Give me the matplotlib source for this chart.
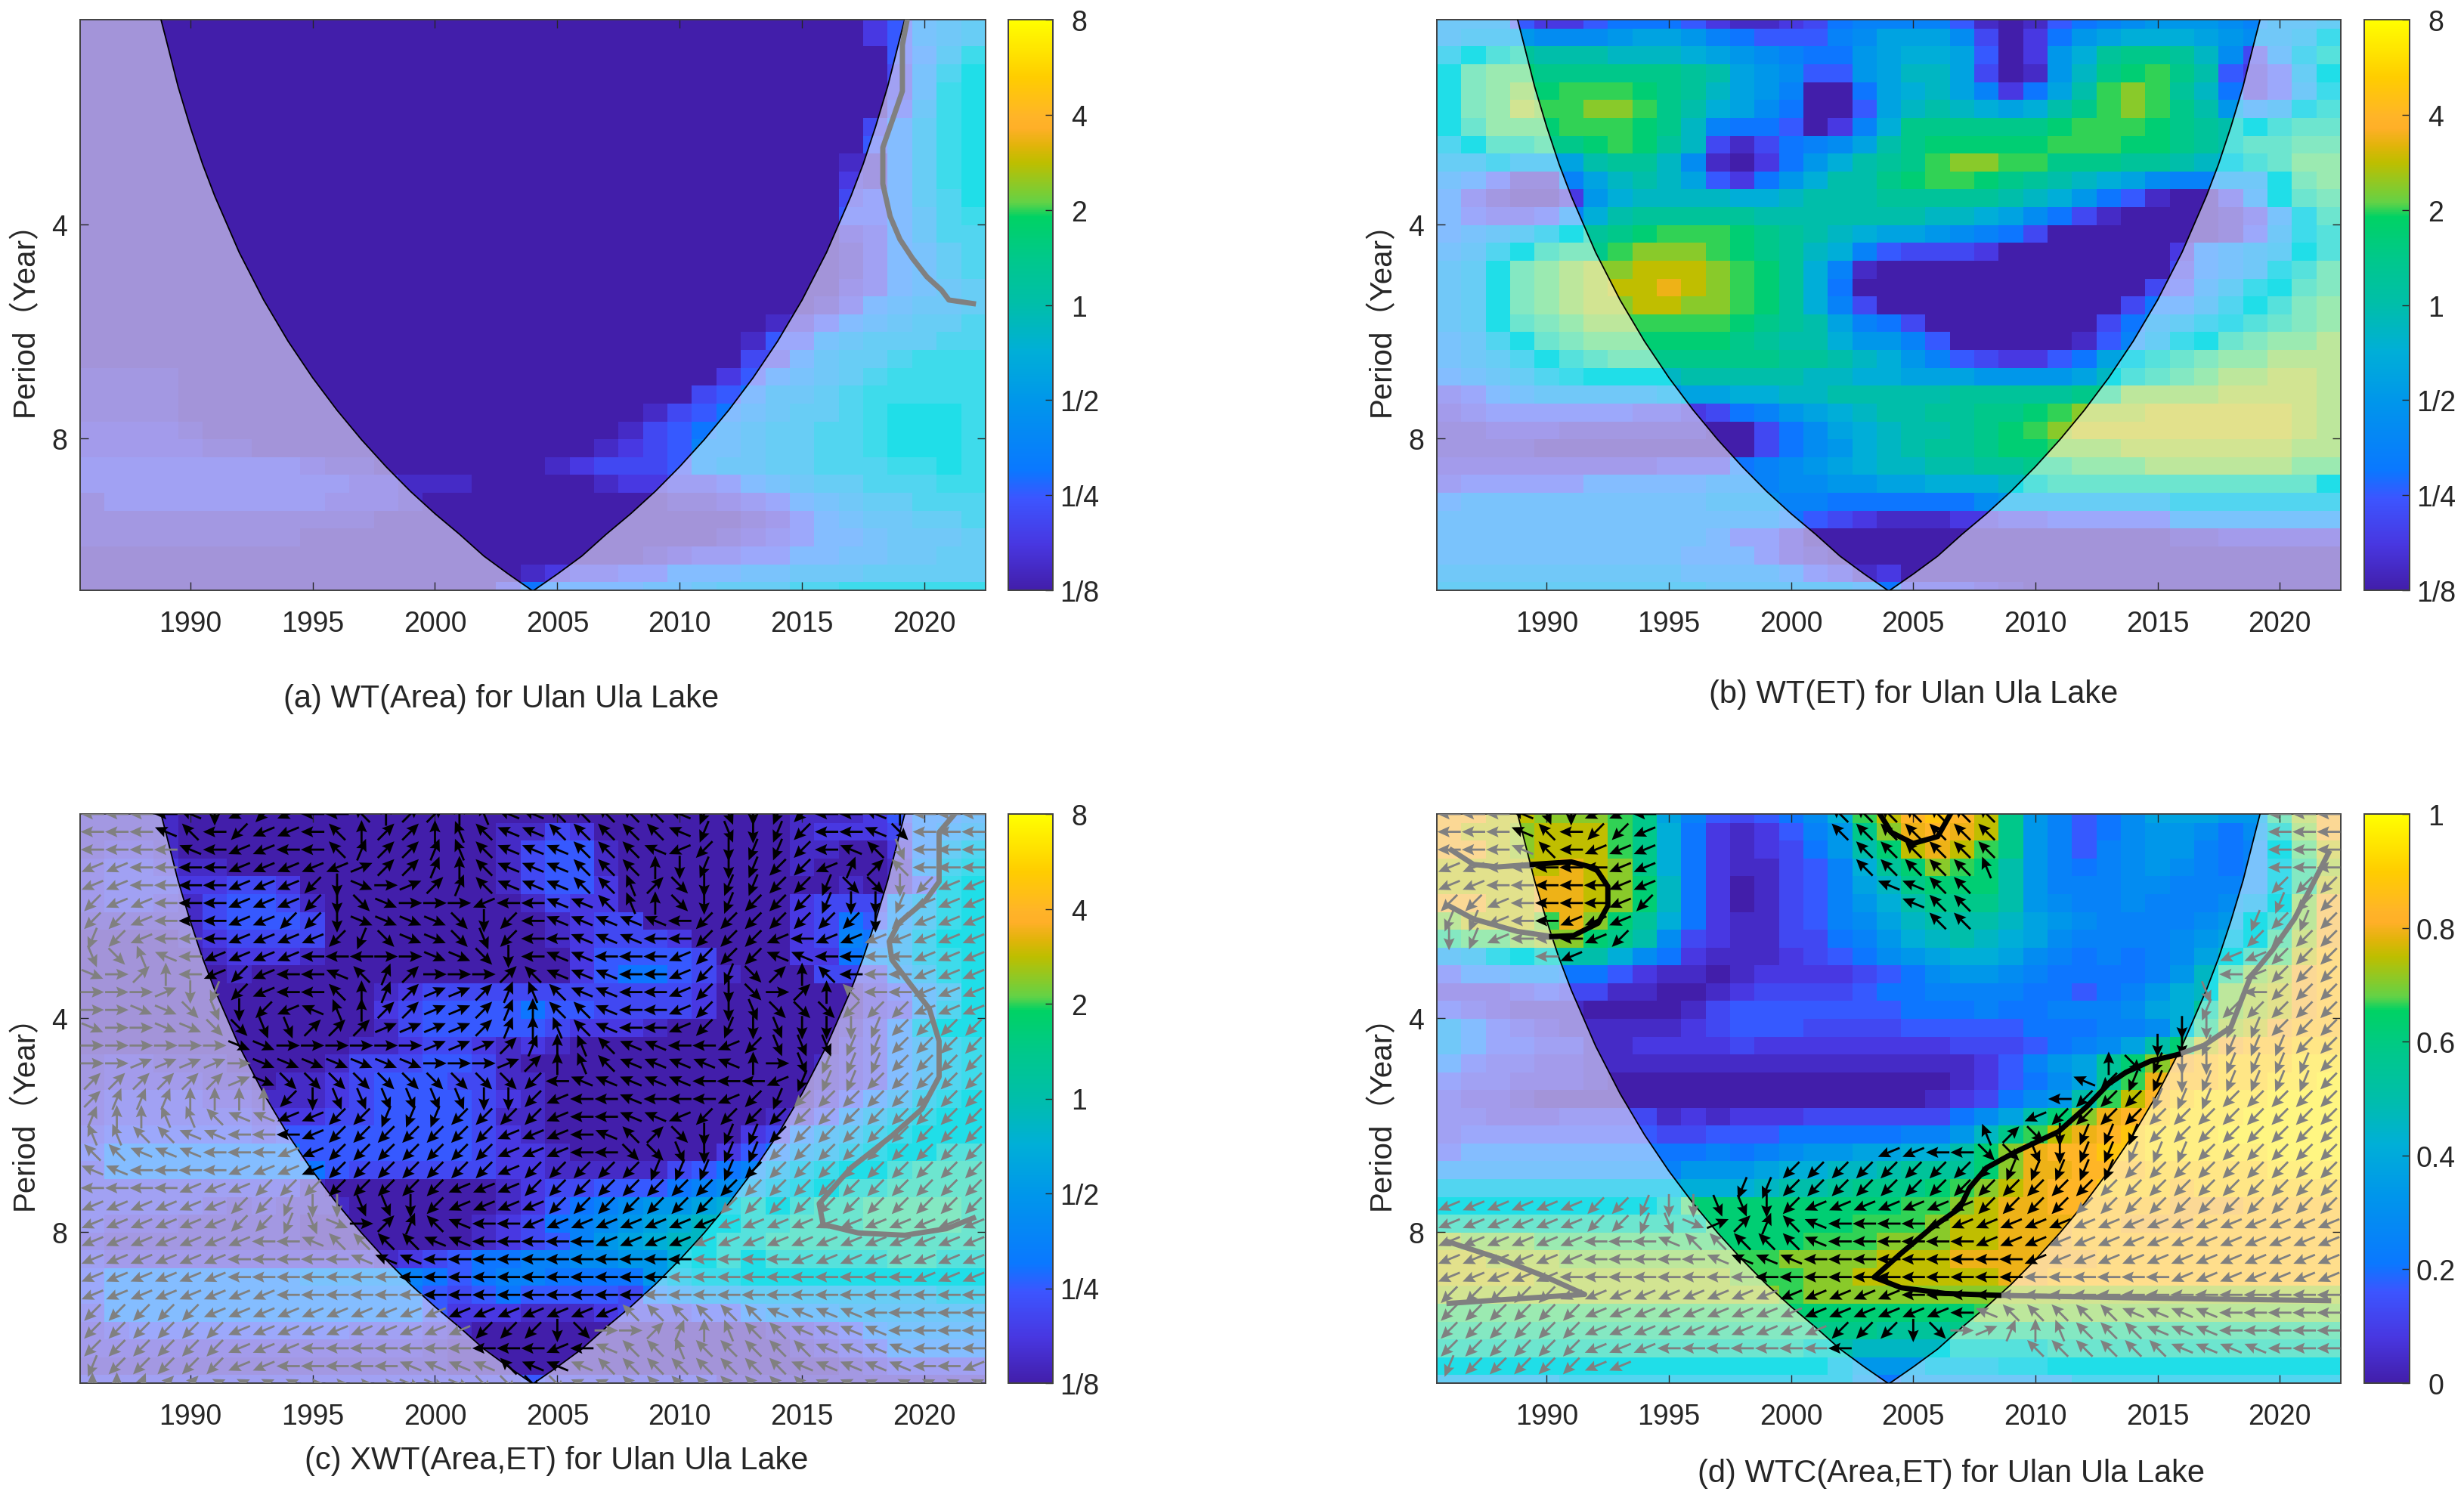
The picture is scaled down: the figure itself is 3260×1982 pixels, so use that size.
import numpy as np
import matplotlib
matplotlib.use("Agg")
from matplotlib import pyplot as plt
from matplotlib.colors import LinearSegmentedColormap, Normalize
from matplotlib.cm import ScalarMappable
from matplotlib.patches import Polygon

W, H = 3260, 1983

# cell values, one char per year (1986..2022), one row per 1/12 octave
# 0-9a-o = 25 steps along the colour bar
area_rows = [
"0"*32+"24678","0"*32+"24678","0"*33+"458a","0"*33+"369b","0"*33+"36ab","0"*33+"47ab",
"0"*32+"358ab","0"*32+"458ab","0"*31+"1158ab","0"*31+"2158ab","0"*31+"34589b","0"*31+"44579a",
"0"*31+"235799","0"*31+"135689","0"*31+"135689","0"*31+"235678","0"*30+"1356778",
"0"*28+"124567889","0"*27+"1446788899","0"*27+"3357889aaa","1111"+"0"*22+"2456789aaaa",
"1111"+"0"*21+"3457789aaaaa","1111"+"0"*19+"134567889abbba","22221"+"0"*17+"1345678899abbba",
"2222211"+"0"*14+"12346678899abbba",
"3"*9+"211"+"0"*7+"12333467788999aaba",
"3"*11+"22111"+"0"*5+"12233456788999aa",
"1"+"3"*9+"2221"+"0"*10+"1123456788999","1"*9+"111"+"0"*15+"1245677889","1"*9+"0"*17+"12345567778",
"0"*23+"12334455667788","0"*18+"1233445556677788888","0"*17+"35555566788899aaaaaa",
]
et_rows = [
"7774224555421123566664101456788876778","7888777899865444679997302589aaa98778a",
"9bcdcccbbba98765589aa94028adeedb7369c","beff"+"eeeeee"+"dc987"+"44"+"89bb9"+"301"+"8befge"+"c4248b",
"befg"+"fgggfedb986"+"0059ab96259c"+"ghgdb5247a","befh"+"gghhgeca975"+"0049bcba9ace"+"ghgec867ac",
"bdff"+"fgggfeb6554"+"026aeeeeeefg"+"ggfedcbcdd","9bdd"+"eefgfdb"+"3135679c"+"efffffgggffedc"+"ddee",
"8898"+"89cddb7"+"10258acd"+"eghhggeeeddcba"+"cdff","65411"+"69bcb94258acc"+"efggfedcba97667"+"7bef",
"53100"+"28abbbbaabccc"+"dddddcba854100"+"36bde","54334"+"6acddddd"+"c"*7+"bba97531"+"0000"+"136ad",
"56789b"+"defgggf"+"edcba9987653"+"0"*7+"147ac","679bde"+"eghhhgfe"+"dba643332"+"0"*7+"25678bc",
"78befgh"+"hiiihgfda61"+"0"*12+"3567ace","78befgh"+"iijihgfda50"+"0"*11+"3468abde",
"78befgh"+"hiihhgfda63"+"0"*10+"35579bcef","78bdefg"+"ggggggfedc9653"[1:]+"0"*7+"35789acdef",
"679bdef"+"fffff"+"edcca8864"+"0"*5+"1468abdeffg","6789bcd"+"e"*7+"ddcba86432245"+"9acdeffggg",
"56789ab"+"bbb"+"ccccc"+"bbaa999"+"8888"+"9b"+"cdefgghhg","3456777778"+"99aabb"+"ccccc"+"ddddd"+"eegggghhhhg",
"2344444433"+"235689abccddeefg"+"hhhiiiiiihg","1122211111"+"1"+"00"+"3579abccdefgh"+"iiiiiiiiihg",
"1111"+"0"*9+"3578abcddeffg"+"gghhhhhhhgg","2"*9+"333"+"56789abbccdde"+"efffggggggff",
"344444"+"55555"+"666"+"778899aaa"+"bc"+"d"*11+"b","5"+"6"*10+"777"+"66"+"555555"+"7"+"8"*7+"9"*7,
"6"*14+"54321112233"+"44444"+"6"*7,"6"*11+"544"+"2"+"0"*15+"1122222","6"*10+"555"+"421"+"0"*21,
"7"*10+"6666"+"5431"+"2"+"0"*18,"8"*11+"777777"+"65"+"333"+"21"+"0"*13,
]
xwt_rows = [
"1111"+"0"*25+"11124556","1111"+"0"*13+"11"+"32"+"0"*8+"1222"+"3"+"567","1221"+"0"*13+"13441"+"0"*7+"1100"+"2"+"589",
"233211"+"0"*11+"13441"+"0"*7+"1000"+"1"+"69a","233322332"+"0"*8+"13442"+"0"*7+"0010"+"1"+"4ab",
"2332134431"+"0"*8+"1322"+"0"*7+"2333"+"6"+"8ab","1111134443"+"0"*9+"1233"+"0"*6+"2354"+"6"+"8ab",
"0000123333"+"0"*9+"123332"+"0"*4+"2365"+"7"+"9bb","0"*5+"12221"+"0"*10+"244443"+"000"+"2256"+"7"+"9ab",
"0"*6+"1"+"0"*13+"2455431"+"000"+"33"+"3"+"6"+"8ab","0"*12+"12"+"3"*11+"2"+"0"*6+"2468b",
"0"*12+"23444454433332"+"0"*6+"2369b","0"*12+"1344444322 21".replace(" ","")+"0"*7+"1359b",
"0"*11+"112332121"+"0"*11+"2"+"3579a","122111"+"0"*4+"13334431"+"0"*12+"12"+"3579a",
"1222211"+"0"+"11234443311"+"0"*11+"12"+"3579a","23333221"+"11234444321"+"0"*11+"2"+"4579ab",
"23333332"+"22334444311"+"0"*9+"12"+"4689abb","34444443"+"44444444321"+"0"*8+"235"+"789abbb",
"4"+"5"*8+"4"*7+"3"+"22"+"1"+"0"*6+"245"+"789abbcc","3"+"5"*8+"54"+"3"*6+"22"+"11111"+"3456"+"89abbcddd",
"3"*9+"1"+"0"*7+"12334445678"+"9abccdddd","33333"+"21"+"2"+"111"+"0"*6+"124567889ac"+"bcddeeeed",
"3222"+"11111"+"0"*7+"12356789abbc"+"cdddeeeed","2"+"1"*8+"0"*7+"1234689abb"+"ccddddddddd",
"3"+"2"*11+"1"+"23455667788"+"abcbcccccddcc","4"+"5"*8+"6"*5+"545665555"+"89a"+"a"+"b"*10,
"4"+"5"*13+"43454444"+"3"+"5677"+"8"*8+"99","3"+"5"*13+"42"+"221112"+"333"+"44"+"5"+"666"+"7"*6,
"23"+"4"*9+"333"+"21"+"0"*12+"1"+"23456666","2"*14+"1"+"0"*14+"12345555","1"*15+"0"*16+"123333",
"3"*18+"4"+"3"*7+"1"*11,
]
wtc_rows = [
"jjii"+"hhhge9643457ag"+"iklkie86457"+"99988ehj","jiih"+"iiigea5212468e"+"hjkjie86457"+"88757cgj",
"jjih"+"iiigea5212358c"+"fijige86467"+"88656bfi","iiii"+"ijihea5211346a"+"dfhgfc86567"+"87656aeh",
"iiii"+"jjihfb52013469"+"befffc86667"+"76666aei","jjii"+"jjihfb52013468"+"aceeec87667"+"66678bgj",
"giii"+"gjhfda52113467"+"9bcccb98766"+"6678bcgj","effg"+"hhfec732113356"+"8abcba97666"+"6789behj",
"78ab"+"ccca7521112345"+"789aa976565"+"679bdfik","4556"+"65542110122223"+"45788765555"+"68beghjk",
"2223"+"43311001233334"+"55666655456"+"8abghijk","4321"+"11000013444444"+"45556556667"+"9adghijk",
"7543"+"21111123444333"+"34444455566"+"7aehijkk","7544"+"33112222322222"+"22233345679"+"cfijkkll",
"5433"+"22"+"1"*12+"111124689df"+"hjklllmm","4332"+"221"+"0"*11+"000124579dg"+"jkkllmmn",
"3221"+"0"*14+"00123578cgi"+"klmmmnnn","3322"+"23333121222333"+"333579cfhjk"+"lmmmnnnn",
"3444"+"44444334445555"+"5668begijkl"+"mmmnnnnn","4555"+"55555556567889"+"9aacfhjkkll"+"mmmmmnnn",
"6666"+"66666688"+"89aabb"+"cdddfhjjkkk"+"lllllmmm","9999"+"999999aaabccde"+"eefghijkkll"+"lkllllll",
"bbbb"+"bbbbbcffffffff"+"fgghijjkkkk"+"kjjjkkkk","dddd"+"dddddddffffffg"+"gghiijjjkkj"+"jjkkkkkk",
"hggg"+"fffffffffffggg"+"hhhiijjjkkk"+"k"*8,"iihh"+"hggggggggghhhh"+"iiijjjjjjkk"+"k"*8,
"iiii"+"hhhhhhhhggghhi"+"iiiiijjkkkk"+"k"*8,"hhhh"+"hhhhhhhhhhghhh"+"hhhhhhhhhhh"+"h"*8,
"ffff"+"f"*11+"fff"+"ffff"+"g"*15,"e"*15+"eee"+"ddd"+"e"*16,"d"*15+"ccbbbb"+"cccc"+"d"*12,
"b"*14+"bb"+"9888"+"999"+"aa"+"b"*12,"8"*5+"9"*12+"757"+"7"*6+"9"*11,
]

# phase arrows, hex digit = direction in 22.5 deg steps from east, "." = no arrow
xwt_phase = [
"88887c9a9886422457"+"7666667bdcba8874888","888768a99864224567"+"7666667bdcba887e888",
"888878998863223567"+"7766679acbba876d888","998888999991223467"+"776664cbcbaa9326888",
"998888999acf012367"+"776652ecbbaabeeca99","a99888999acef00098"+"877654ecbaaabccb999",
"aa988899aacffffeca"+"8777778aaaaaaaca999","ba98889999abeffeda"+"8877788aaa989999999",
"de5789999888"+"00ffec"+"8778889aaa778888999","f02489a98876320002"+"6777889abe246888999",
"0001cba98864321123"+"5677889ace024688999","00ffedca9754221123"+"4667889acdeeeaaa999",
"f00ffeedd222111123"+"4567889abcdcccbaaaa","000000ff0000001112"+"345677889adddbbaaaa",
"0011110fffffff0001"+"2456777774 0dbbbaaaa".replace(" ",""),"2222221feeeeeeeeee"+"a8777778889bbbaaaaa",
"23334444acddddddcc"+"a98878889abaaaaaaaa","3445567799aabbbaaa"+"a988779aaaaaaaaaaaa",
"5566778889aaaaaaa9"+"998762ecbb"+"a"*9,"6677788899aaaaaaa9"+"9988eedcbb"+"a"*9,
"7788889999aaaaaaa9"+"aaaaabbbb"+"a"*10,"888899"+"9aaaaaaaa999"+"a"*19,
"999999aabccddca999"+"9"+"a"*18,"999999aabdf0236788"+"9"*19,"999999988766667788"+"888"+"9"*16,
"9"*6+"88888"+"777"+"8888"+"8"+"8"*10+"9"*9,"9"*6+"8"*12+"8"*16+"9"*3,"9"*8+"8"*10+"8"*19,
"a"*5+"9"*13+"9999"+"666666"+"7777"+"88888","a"*6+"9"*10+"aa"+"ace002345667777 8888".replace(" ",""),
"a"*6+"999"+"8"*9+"8987665666667777888","baaaaa998888877776"+"7776666666677777889",
"4432211110000fffee"+"ee77666666667771111",
]
wtc_phase = [
"8887dc998"+"."*7+"6666666"+"."*11+"888","888768aa9"+"."*7+"6666666"+"."*11+"888",
"888768999"+"."*8+"666666"+"."*11+"888","998888899"+"."*8+"666665"+"."*11+"888",
"998888899"+"."*9+"7766"+"."*12+"aaa","aa988889a"+"."*10+"766"+"."*12+"baa",
"bb988999"+"."*12+"66"+"."*11+"baba","cb98889a"+"."*25+"aaaa",
"...."+"89"+"."*26+"99aaa","."*32+"89aaa","."*31+"d"+"."+"8aaa","."*31+"baaaaa",
"."*30+"ccbbaaa","."*29+"ccbbbbaa","."*27+"4ebccbbbba","."*26+"7abbcbbbbba",
"."*25+"8aaabbb"+"a"*5,"."*24+"9"+"a"*12,"."*22+"52ecbbb"+"a"*8,"."*18+"9988eedcbbb"+"bbaaaaaa",
"."*14+"a"*9+"bbbbb"+"a"*9,"."*12+"bb"+"a"*23,"9"*6+"aabcc"+"ddca"+"9999"+"999"+"a"*15,
"999999aabdf"+"123678888"+"9"*17,"9"*6+"888"+"76"+"6666"+"7888888"+"9"*15,
"9"*6+"88888"+"7777"+"8"*9+"9"*13,"9"*5+"8"*25+"9"*7,"a"*5+"9"*14+"8"*18,
"a"*6+"9"*15+"87"+"66666"+"7777"+"8"*5,"a"*6+"9"*10+"aaa"+"ce01"+"3456"+"66"+"777"+"88888",
"a"*6+"999"+"8"*8+"."*7+"666666"+"7777"+"888","baaaaa99"+"."*29,"."*37,
]

years = list(range(1986, 2023))

# cone of influence
cone_year = [1988.8,1989,1989.5,1990,1990.5,1991,1992,1993,1994,1995,1996,1997,1998,1999,2000,2001,2002,2003,2004,
             2005,2006,2007,2008,2009,2010,2011,2012,2013,2014,2015,2016,2017,2017.5,2018,2018.5,2019,2019.2]
cone_period = [2.06,2.19,2.56,2.92,3.29,3.65,4.38,5.11,5.84,6.57,7.30,8.03,8.76,9.49,10.2,10.9,11.7,12.4,13.1,
               12.4,11.7,10.9,10.2,9.49,8.76,8.03,7.30,6.57,5.84,5.11,4.38,3.65,3.29,2.92,2.56,2.19,2.06]

# significance contours (year, period)
area_sig_x = [2019.3,2019.1,2019.1,2018.7,2018.3,2018.3,2018.6,2019.0,2019.5,2020.1,2020.7,2021.0,2022.0]
area_sig_p = [2.06,2.24,2.60,2.85,3.12,3.51,3.90,4.20,4.46,4.74,4.95,5.11,5.17]
xwt_sig_x = [2021.2,2020.6,2020.6,2020.05,2018.95,2018.56,2018.67,2019.36,2020.2,2020.6,2020.6,2019.9,2018.67,2017.0,2015.7,2015.86,2017.3,2019.2,2020.9,2022.0]
xwt_sig_p = [2.07,2.19,2.57,2.73,2.94,3.12,3.31,3.56,3.88,4.31,4.84,5.37,5.86,6.50,7.30,7.81,8.03,8.09,7.92,7.65]

wtc_gray = [
    ([1986.1,1987.0,1988.0,1989.4], [2.32,2.43,2.45,2.43]),
    ([1990.2,1988.8,1987.0,1986.0], [3.07,3.02,2.90,2.78]),
    ([2022.0,2021.2,2020.6,2019.7,2018.8,2018.0,2016.9,2015.85], [2.34,2.65,2.90,3.21,3.50,4.12,4.37,4.50]),
    ([2008.5,2013.9,2022.0], [9.83,9.91,10.0]),
    ([1986.0,1988.0,1989.9,1991.55,1988.2,1986.0], [8.27,8.71,9.24,9.80,9.97,10.09]),
]
wtc_black = [
    ([1989.4,1991.0,1992.0,1992.5,1992.5,1992.1,1991.1,1990.2], [2.43,2.41,2.46,2.61,2.78,2.94,3.06,3.07]),
    ([2003.66,2004.1,2005.0,2006.0,2006.5], [2.07,2.19,2.27,2.22,2.07]),
    ([2015.85,2014.7,2013.7,2013.0,2012.1,2010.95,2009.2,2008.0,2007.3,2006.9,2005.7,2004.5,2003.4,2004.5,2006.3,2008.5],
     [4.50,4.60,4.77,4.95,5.33,5.78,6.17,6.50,6.94,7.41,7.92,8.58,9.27,9.59,9.77,9.83]),
]

GRAY = "#808080"
DARK = "#262626"
FONT = ["Liberation Sans", "Noto Sans CJK SC", "DejaVu Sans"]
plt.rcParams["font.family"] = FONT

base_stops = [(0,(66,30,170)),(.08,(72,55,225)),(.16,(60,85,255)),(.21,(10,120,255)),(.33,(0,150,235)),(.42,(0,175,215)),
              (.5,(0,190,170)),(.58,(0,200,140)),(.655,(0,210,100)),(.68,(100,210,70)),(.75,(190,190,0)),(.78,(225,180,10)),
              (.81,(255,175,40)),(.83,(255,180,40)),(.9,(255,205,0)),(1,(255,255,0))]
fade_stops = [(0,(163,148,217)),(.08,(163,155,235)),(.16,(160,165,250)),(.21,(130,190,255)),(.33,(105,205,245)),(.42,(60,220,235)),
              (.46,(30,222,232)),(.5,(85,225,220)),(.58,(130,232,195)),(.62,(150,235,180)),(.68,(200,230,150)),(.75,(225,225,140)),
              (.8,(255,215,150)),(.85,(255,225,135)),(.95,(255,245,130)),(1,(255,250,130))]
cmap = LinearSegmentedColormap.from_list("wave", [(t,[c/255 for c in col]) for t,col in base_stops], N=512)
fade = LinearSegmentedColormap.from_list("wave_fade", [(t,[c/255 for c in col]) for t,col in fade_stops], N=512)

CODES = "0123456789abcdefghijklmno"

def decode(rows):
    out = []
    for r in rows:
        r = r.ljust(37, r[-1])[:37]
        out.append([CODES.index(ch) for ch in r])
    return np.array(out, dtype=float)

def px_box(x0, y0, x1, y1):
    return [x0/W, 1-y1/H, (x1-x0)/W, (y1-y0)/H]

TOP = 1.045
STEP = 1/12
NR = 33
centers = 2**(TOP + STEP*np.arange(NR))
edges = 2**(TOP + STEP*(np.arange(NR+1)-0.5))
xedges = np.arange(1985.5, 2023)
ylim = (2**TOP, 2**(TOP+2.663))

def inside_cone(x, p):
    left = np.interp(p, cone_period[:19], cone_year[:19])
    return left <= x <= 2*2004-left

def panel(box, cbox, rows, title, title_xy, ylab_x, bar, phase=None, gray=(), black=()):
    ax = fig.add_axes(px_box(*box))
    vals = decode(rows)
    ax.pcolormesh(xedges, edges, vals, cmap=fade, vmin=0, vmax=24, shading="flat", rasterized=True)
    m = ax.pcolormesh(xedges, edges, vals, cmap=cmap, vmin=0, vmax=24, shading="flat", rasterized=True)
    cone = Polygon(list(zip(cone_year, cone_period)), closed=True, transform=ax.transData, fc="none", ec="none")
    ax.add_patch(cone)
    m.set_clip_path(cone)
    ax.plot(cone_year, cone_period, color="black", lw=1.3, zorder=3)
    ax.set_yscale("log", base=2)
    ax.set_xlim(1985.5, 2022.5)
    ax.set_ylim(ylim[1], ylim[0])
    ax.minorticks_off()
    ax.set_yticks([4, 8])
    ax.set_yticklabels(["4", "8"])
    ax.set_xticks(range(1990, 2021, 5))
    ax.tick_params(axis="both", which="both", direction="in", length=8, width=1, color=DARK, labelcolor=DARK,
                   labelsize=27, top=True, right=True)
    ax.tick_params(axis="x", pad=19)
    ax.tick_params(axis="y", pad=12)
    for s in ax.spines.values():
        s.set_color("#404040")
        s.set_linewidth(1.4)

    if phase is not None:
        for col, kx in ((GRAY, False), ("black", True)):
            xs, ps, us, vs = [], [], [], []
            for i, r in enumerate(phase):
                r = r.ljust(37, r[-1])[:37]
                for j, ch in enumerate(r):
                    if ch == ".":
                        continue
                    if inside_cone(years[j], centers[i]) != kx:
                        continue
                    a = np.deg2rad(int(ch, 16)*22.5)
                    xs.append(years[j]); ps.append(centers[i])
                    us.append(31*np.cos(a)); vs.append(31*np.sin(a))
            ax.quiver(xs, ps, us, vs, color=col, angles="uv", scale_units="dots", scale=1, units="dots",
                      width=2.8, headwidth=5.2, headlength=5.8, headaxislength=5, pivot="mid", zorder=4)

    for xx, pp in gray:
        ax.plot(xx, pp, color=GRAY, lw=5, zorder=5, solid_joinstyle="round")
    for xx, pp in black:
        ax.plot(xx, pp, color="black", lw=5, zorder=5, solid_joinstyle="round")

    cax = fig.add_axes(px_box(*cbox))
    if bar == "power":
        cb = fig.colorbar(ScalarMappable(Normalize(-3, 3), cmap), cax=cax)
        cb.set_ticks(range(-3, 4))
        cb.set_ticklabels(["1/8", "1/4", "1/2", "1", "2", "4", "8"])
    else:
        cb = fig.colorbar(ScalarMappable(Normalize(0, 1), cmap), cax=cax)
        cb.set_ticks([0, .2, .4, .6, .8, 1])
        cb.set_ticklabels(["0", "0.2", "0.4", "0.6", "0.8", "1"])
    cb.ax.tick_params(direction="in", length=7, width=1, color=DARK, labelcolor=DARK, labelsize=27, pad=25)
    for l in cb.ax.get_yticklabels():
        l.set_ha("center")
    cb.outline.set_edgecolor("#404040")
    cb.outline.set_linewidth(1.4)

    fig.text(title_xy[0]/W, 1-title_xy[1]/H, title, ha="center", va="center", fontsize=30, color=DARK)
    fig.text(ylab_x/W, 1-(box[1]+(box[3]-box[1])*0.51)/H, "Period（Year）", rotation=90, ha="center", va="center",
             fontsize=29, color=DARK)
    return ax


fig = plt.figure(figsize=(W/100, H/100), dpi=100)

panel((106,27,1304,782), (1334,27,1393,782), area_rows, "(a) WT(Area) for Ulan Ula Lake", (663,925), 33, "power",
      gray=[(area_sig_x, area_sig_p)])
panel((1901,27,3097,782), (3128,27,3188,782), et_rows, "(b) WT(ET) for Ulan Ula Lake", (2532,919), 1828, "power")
panel((106,1078,1304,1831), (1334,1078,1393,1831), xwt_rows, "(c) XWT(Area,ET) for Ulan Ula Lake", (736,1933), 33, "power",
      phase=xwt_phase, gray=[(xwt_sig_x, xwt_sig_p)])
panel((1901,1078,3097,1831), (3128,1078,3188,1831), wtc_rows, "(d) WTC(Area,ET) for Ulan Ula Lake", (2582,1950), 1828, "coh",
      phase=wtc_phase, gray=wtc_gray, black=wtc_black)

fig.savefig("out.png", dpi=100)
